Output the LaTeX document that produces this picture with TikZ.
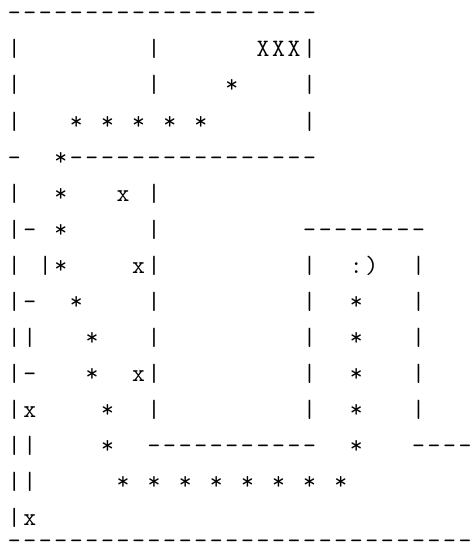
\documentclass[tikz,border=0pt]{standalone}
\usepackage{fontspec}
\usepackage{tikz}

% one monospaced cell per character
\newcommand\gridrun[1]{\gridrunstep#1\relax}
\def\gridrunstep#1{\ifx#1\relax\else\makebox[15.55pt]{#1}\expandafter\gridrunstep\fi}

\begin{document}
\begin{tikzpicture}[x=15.55pt, y=-36pt,
      ascii/.style={inner sep=0pt, anchor=base west, xshift=-7.775pt,
        font=\ttfamily\fontsize{25}{25}\selectfont}]
    \useasboundingbox (-0.9003,-0.5833) rectangle (29.582,14.833);
    % upper box
    \node[ascii] (top) at (0,0) {\gridrun{--------------------}};
    \node[ascii] (r1a) at (0,1) {\gridrun{|}};
    \node[ascii] (r1b) at (9,1) {\gridrun{|}};
    \node[ascii] (xxx) at (16,1) {\gridrun{XXX|}};
    \node[ascii] (r2a) at (0,2) {\gridrun{|}};
    \node[ascii] (r2b) at (9,2) {\gridrun{|}};
    \node[ascii] (r2s) at (14,2) {\gridrun{*}};
    \node[ascii] (r2c) at (19,2) {\gridrun{|}};
    \node[ascii] (r3a) at (0,3) {\gridrun{|}};
    \foreach \c in {4,6,...,12}
      \node[ascii] (r3s\c) at (\c,3) {\gridrun{*}};
    \node[ascii] (r3c) at (19,3) {\gridrun{|}};
    \node[ascii] (r4a) at (0,4) {\gridrun{-}};
    \node[ascii] (r4b) at (3,4) {\gridrun{*----------------}};
    % left column
    \node[ascii] (r5a) at (0,5) {\gridrun{|}};
    \node[ascii] (r5s) at (3,5) {\gridrun{*}};
    \node[ascii] (r5x) at (7,5) {\gridrun{x}};
    \node[ascii] (r5b) at (9,5) {\gridrun{|}};
    \node[ascii] (r6a) at (0,6) {\gridrun{|-}};
    \node[ascii] (r6s) at (3,6) {\gridrun{*}};
    \node[ascii] (r6b) at (9,6) {\gridrun{|}};
    \node[ascii] (r6c) at (19,6) {\gridrun{--------}};
    \node[ascii] (r7a) at (0,7) {\gridrun{|}};
    \node[ascii] (r7b) at (2,7) {\gridrun{|*}};
    \node[ascii] (r7x) at (8,7) {\gridrun{x|}};
    \node[ascii] (r7c) at (19,7) {\gridrun{|}};
    \node[ascii] (smile) at (22,7) {\gridrun{:)}};
    \node[ascii] (r7d) at (26,7) {\gridrun{|}};
    \node[ascii] (r8a) at (0,8) {\gridrun{|-}};
    \node[ascii] (r8s) at (4,8) {\gridrun{*}};
    \node[ascii] (r9a) at (0,9) {\gridrun{||}};
    \node[ascii] (r9s) at (5,9) {\gridrun{*}};
    \node[ascii] (r10a) at (0,10) {\gridrun{|-}};
    \node[ascii] (r10s) at (5,10) {\gridrun{*}};
    \node[ascii] (r10x) at (8,10) {\gridrun{x|}};
    \node[ascii] (r11a) at (0,11) {\gridrun{|x}};
    \node[ascii] (r11s) at (6,11) {\gridrun{*}};
    \foreach \r in {8,9,11}
      \node[ascii] (r\r b) at (9,\r) {\gridrun{|}};
    % right box
    \foreach \r in {8,...,11} {
      \node[ascii] (r\r c) at (19,\r) {\gridrun{|}};
      \node[ascii] (r\r s) at (22,\r) {\gridrun{*}};
      \node[ascii] (r\r d) at (26,\r) {\gridrun{|}};
    }
    % bottom
    \node[ascii] (r12a) at (0,12) {\gridrun{||}};
    \node[ascii] (r12s) at (6,12) {\gridrun{*}};
    \node[ascii] (r12b) at (9,12) {\gridrun{-----------}};
    \node[ascii] (r12t) at (22,12) {\gridrun{*}};
    \node[ascii] (r12c) at (26,12) {\gridrun{----}};
    \node[ascii] (r13a) at (0,13) {\gridrun{||}};
    \foreach \c in {7,9,...,21}
      \node[ascii] (r13s\c) at (\c,13) {\gridrun{*}};
    \node[ascii] (r14a) at (0,14) {\gridrun{|x}};
    \node[ascii] (floor) at (0,14.64) {\gridrun{------------------------------}};
  \end{tikzpicture}
\end{document}
